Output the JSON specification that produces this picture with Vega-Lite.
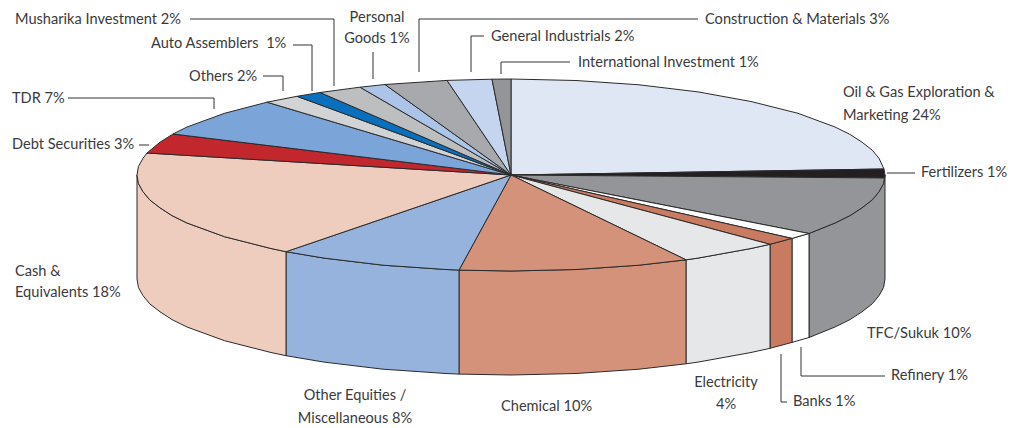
{"$schema":"https://vega.github.io/schema/vega-lite/v6.json","width":1026,"height":428,"padding":0,"autosize":{"type":"fit","contains":"padding"},"background":"white","config":{"view":{"stroke":null}},
"datasets":{"faces":[
{"p":"s1","s":"TFC/Sukuk","i":1,"x":885,"y":175},{"p":"s1","s":"TFC/Sukuk","i":2,"x":883.6,"y":183.4},{"p":"s1","s":"TFC/Sukuk","i":3,"x":879,"y":191.7},{"p":"s1","s":"TFC/Sukuk","i":4,"x":872.3,"y":199.8},{"p":"s1","s":"TFC/Sukuk","i":5,"x":862,"y":207.8},{"p":"s1","s":"TFC/Sukuk","i":6,"x":850,"y":215.6},{"p":"s1","s":"TFC/Sukuk","i":7,"x":835,"y":223},{"p":"s1","s":"TFC/Sukuk","i":8,"x":809,"y":233.5},{"p":"s1","s":"TFC/Sukuk","i":9,"x":809,"y":337.5},{"p":"s1","s":"TFC/Sukuk","i":10,"x":835,"y":327},{"p":"s1","s":"TFC/Sukuk","i":11,"x":850,"y":319.6},{"p":"s1","s":"TFC/Sukuk","i":12,"x":862,"y":311.8},{"p":"s1","s":"TFC/Sukuk","i":13,"x":872.3,"y":303.8},{"p":"s1","s":"TFC/Sukuk","i":14,"x":879,"y":295.7},{"p":"s1","s":"TFC/Sukuk","i":15,"x":883.6,"y":287.4},{"p":"s1","s":"TFC/Sukuk","i":16,"x":885,"y":279},{"p":"s1","s":"TFC/Sukuk","i":17,"x":885,"y":175},
{"p":"s2","s":"Refinery","i":1,"x":809,"y":233.5},{"p":"s2","s":"Refinery","i":2,"x":792,"y":238.4},{"p":"s2","s":"Refinery","i":3,"x":792,"y":342.4},{"p":"s2","s":"Refinery","i":4,"x":809,"y":337.5},{"p":"s2","s":"Refinery","i":5,"x":809,"y":233.5},
{"p":"s3","s":"Banks","i":1,"x":792,"y":238.4},{"p":"s3","s":"Banks","i":2,"x":770,"y":244.3},{"p":"s3","s":"Banks","i":3,"x":770,"y":348.3},{"p":"s3","s":"Banks","i":4,"x":792,"y":342.4},{"p":"s3","s":"Banks","i":5,"x":792,"y":238.4},
{"p":"s4","s":"Electricity","i":1,"x":770,"y":244.3},{"p":"s4","s":"Electricity","i":2,"x":751,"y":248.5},{"p":"s4","s":"Electricity","i":3,"x":698,"y":258.1},{"p":"s4","s":"Electricity","i":4,"x":686,"y":259.8},{"p":"s4","s":"Electricity","i":5,"x":686,"y":363.8},{"p":"s4","s":"Electricity","i":6,"x":698,"y":362.1},{"p":"s4","s":"Electricity","i":7,"x":751,"y":352.5},{"p":"s4","s":"Electricity","i":8,"x":770,"y":348.3},{"p":"s4","s":"Electricity","i":9,"x":770,"y":244.3},
{"p":"s5","s":"Chemical","i":1,"x":686,"y":259.8},{"p":"s5","s":"Chemical","i":2,"x":639,"y":265.2},{"p":"s5","s":"Chemical","i":3,"x":576,"y":269.5},{"p":"s5","s":"Chemical","i":4,"x":511,"y":271},{"p":"s5","s":"Chemical","i":5,"x":459,"y":270.1},{"p":"s5","s":"Chemical","i":6,"x":459,"y":374.1},{"p":"s5","s":"Chemical","i":7,"x":511,"y":375},{"p":"s5","s":"Chemical","i":8,"x":576,"y":373.5},{"p":"s5","s":"Chemical","i":9,"x":639,"y":369.2},{"p":"s5","s":"Chemical","i":10,"x":686,"y":363.8},{"p":"s5","s":"Chemical","i":11,"x":686,"y":259.8},
{"p":"s6","s":"Other Equities","i":1,"x":459,"y":270.1},{"p":"s6","s":"Other Equities","i":2,"x":446,"y":269.5},{"p":"s6","s":"Other Equities","i":3,"x":383,"y":265.2},{"p":"s6","s":"Other Equities","i":4,"x":324,"y":258.1},{"p":"s6","s":"Other Equities","i":5,"x":286,"y":251.7},{"p":"s6","s":"Other Equities","i":6,"x":286,"y":355.7},{"p":"s6","s":"Other Equities","i":7,"x":324,"y":362.1},{"p":"s6","s":"Other Equities","i":8,"x":383,"y":369.2},{"p":"s6","s":"Other Equities","i":9,"x":446,"y":373.5},{"p":"s6","s":"Other Equities","i":10,"x":459,"y":374.1},{"p":"s6","s":"Other Equities","i":11,"x":459,"y":270.1},
{"p":"s7","s":"Cash","i":1,"x":286,"y":251.7},{"p":"s7","s":"Cash","i":2,"x":271,"y":248.5},{"p":"s7","s":"Cash","i":3,"x":224.5,"y":236.7},{"p":"s7","s":"Cash","i":4,"x":187,"y":223},{"p":"s7","s":"Cash","i":5,"x":172,"y":215.6},{"p":"s7","s":"Cash","i":6,"x":160,"y":207.8},{"p":"s7","s":"Cash","i":7,"x":149.7,"y":199.8},{"p":"s7","s":"Cash","i":8,"x":143,"y":191.7},{"p":"s7","s":"Cash","i":9,"x":138.4,"y":183.4},{"p":"s7","s":"Cash","i":10,"x":137,"y":175},{"p":"s7","s":"Cash","i":11,"x":137,"y":279},{"p":"s7","s":"Cash","i":12,"x":138.4,"y":287.4},{"p":"s7","s":"Cash","i":13,"x":143,"y":295.7},{"p":"s7","s":"Cash","i":14,"x":149.7,"y":303.8},{"p":"s7","s":"Cash","i":15,"x":160,"y":311.8},{"p":"s7","s":"Cash","i":16,"x":172,"y":319.6},{"p":"s7","s":"Cash","i":17,"x":187,"y":327},{"p":"s7","s":"Cash","i":18,"x":224.5,"y":340.7},{"p":"s7","s":"Cash","i":19,"x":271,"y":352.5},{"p":"s7","s":"Cash","i":20,"x":286,"y":355.7},{"p":"s7","s":"Cash","i":21,"x":286,"y":251.7},
{"p":"t01","s":"Oil & Gas","i":0,"x":511,"y":175},{"p":"t01","s":"Oil & Gas","i":1,"x":511,"y":79},{"p":"t01","s":"Oil & Gas","i":2,"x":576,"y":80.5},{"p":"t01","s":"Oil & Gas","i":3,"x":639,"y":84.8},{"p":"t01","s":"Oil & Gas","i":4,"x":698,"y":91.9},{"p":"t01","s":"Oil & Gas","i":5,"x":751,"y":101.5},{"p":"t01","s":"Oil & Gas","i":6,"x":798,"y":113.3},{"p":"t01","s":"Oil & Gas","i":7,"x":835,"y":127},{"p":"t01","s":"Oil & Gas","i":8,"x":850,"y":134.4},{"p":"t01","s":"Oil & Gas","i":9,"x":862,"y":142.2},{"p":"t01","s":"Oil & Gas","i":10,"x":872.3,"y":150.2},{"p":"t01","s":"Oil & Gas","i":11,"x":879,"y":158.3},{"p":"t01","s":"Oil & Gas","i":12,"x":884,"y":169},{"p":"t01","s":"Oil & Gas","i":13,"x":511,"y":175},
{"p":"t02","s":"Fertilizers","i":0,"x":511,"y":175},{"p":"t02","s":"Fertilizers","i":1,"x":884,"y":169},{"p":"t02","s":"Fertilizers","i":2,"x":885,"y":175},{"p":"t02","s":"Fertilizers","i":3,"x":884.5,"y":178},{"p":"t02","s":"Fertilizers","i":4,"x":511,"y":175},
{"p":"t03","s":"TFC/Sukuk","i":0,"x":511,"y":175},{"p":"t03","s":"TFC/Sukuk","i":1,"x":884.5,"y":178},{"p":"t03","s":"TFC/Sukuk","i":2,"x":883.6,"y":183.4},{"p":"t03","s":"TFC/Sukuk","i":3,"x":879,"y":191.7},{"p":"t03","s":"TFC/Sukuk","i":4,"x":872.3,"y":199.8},{"p":"t03","s":"TFC/Sukuk","i":5,"x":862,"y":207.8},{"p":"t03","s":"TFC/Sukuk","i":6,"x":850,"y":215.6},{"p":"t03","s":"TFC/Sukuk","i":7,"x":835,"y":223},{"p":"t03","s":"TFC/Sukuk","i":8,"x":809,"y":233.5},{"p":"t03","s":"TFC/Sukuk","i":9,"x":511,"y":175},
{"p":"t04","s":"Refinery","i":0,"x":511,"y":175},{"p":"t04","s":"Refinery","i":1,"x":809,"y":233.5},{"p":"t04","s":"Refinery","i":2,"x":792,"y":238.4},{"p":"t04","s":"Refinery","i":3,"x":511,"y":175},
{"p":"t05","s":"Banks","i":0,"x":511,"y":175},{"p":"t05","s":"Banks","i":1,"x":792,"y":238.4},{"p":"t05","s":"Banks","i":2,"x":770,"y":244.3},{"p":"t05","s":"Banks","i":3,"x":511,"y":175},
{"p":"t06","s":"Electricity","i":0,"x":511,"y":175},{"p":"t06","s":"Electricity","i":1,"x":770,"y":244.3},{"p":"t06","s":"Electricity","i":2,"x":751,"y":248.5},{"p":"t06","s":"Electricity","i":3,"x":698,"y":258.1},{"p":"t06","s":"Electricity","i":4,"x":686,"y":259.8},{"p":"t06","s":"Electricity","i":5,"x":511,"y":175},
{"p":"t07","s":"Chemical","i":0,"x":511,"y":175},{"p":"t07","s":"Chemical","i":1,"x":686,"y":259.8},{"p":"t07","s":"Chemical","i":2,"x":639,"y":265.2},{"p":"t07","s":"Chemical","i":3,"x":576,"y":269.5},{"p":"t07","s":"Chemical","i":4,"x":511,"y":271},{"p":"t07","s":"Chemical","i":5,"x":459,"y":270.1},{"p":"t07","s":"Chemical","i":6,"x":511,"y":175},
{"p":"t08","s":"Other Equities","i":0,"x":511,"y":175},{"p":"t08","s":"Other Equities","i":1,"x":459,"y":270.1},{"p":"t08","s":"Other Equities","i":2,"x":446,"y":269.5},{"p":"t08","s":"Other Equities","i":3,"x":383,"y":265.2},{"p":"t08","s":"Other Equities","i":4,"x":324,"y":258.1},{"p":"t08","s":"Other Equities","i":5,"x":286,"y":251.7},{"p":"t08","s":"Other Equities","i":6,"x":511,"y":175},
{"p":"t09","s":"Cash","i":0,"x":511,"y":175},{"p":"t09","s":"Cash","i":1,"x":286,"y":251.7},{"p":"t09","s":"Cash","i":2,"x":271,"y":248.5},{"p":"t09","s":"Cash","i":3,"x":224.5,"y":236.7},{"p":"t09","s":"Cash","i":4,"x":187,"y":223},{"p":"t09","s":"Cash","i":5,"x":172,"y":215.6},{"p":"t09","s":"Cash","i":6,"x":160,"y":207.8},{"p":"t09","s":"Cash","i":7,"x":149.7,"y":199.8},{"p":"t09","s":"Cash","i":8,"x":143,"y":191.7},{"p":"t09","s":"Cash","i":9,"x":138.4,"y":183.4},{"p":"t09","s":"Cash","i":10,"x":137,"y":175},{"p":"t09","s":"Cash","i":11,"x":138.4,"y":166.6},{"p":"t09","s":"Cash","i":12,"x":143,"y":158.3},{"p":"t09","s":"Cash","i":13,"x":147,"y":153},{"p":"t09","s":"Cash","i":14,"x":511,"y":175},
{"p":"t10","s":"Debt Securities","i":0,"x":511,"y":175},{"p":"t10","s":"Debt Securities","i":1,"x":147,"y":153},{"p":"t10","s":"Debt Securities","i":2,"x":160,"y":142.2},{"p":"t10","s":"Debt Securities","i":3,"x":173,"y":134},{"p":"t10","s":"Debt Securities","i":4,"x":511,"y":175},
{"p":"t11","s":"TDR","i":0,"x":511,"y":175},{"p":"t11","s":"TDR","i":1,"x":173,"y":134},{"p":"t11","s":"TDR","i":2,"x":187,"y":127},{"p":"t11","s":"TDR","i":3,"x":224.5,"y":113.3},{"p":"t11","s":"TDR","i":4,"x":267,"y":102.2},{"p":"t11","s":"TDR","i":5,"x":511,"y":175},
{"p":"t12","s":"Others","i":0,"x":511,"y":175},{"p":"t12","s":"Others","i":1,"x":267,"y":102.2},{"p":"t12","s":"Others","i":2,"x":297,"y":96.3},{"p":"t12","s":"Others","i":3,"x":511,"y":175},
{"p":"t13","s":"Auto Assemblers","i":0,"x":511,"y":175},{"p":"t13","s":"Auto Assemblers","i":1,"x":297,"y":96.3},{"p":"t13","s":"Auto Assemblers","i":2,"x":320,"y":92.5},{"p":"t13","s":"Auto Assemblers","i":3,"x":511,"y":175},
{"p":"t14","s":"Musharika Investment","i":0,"x":511,"y":175},{"p":"t14","s":"Musharika Investment","i":1,"x":320,"y":92.5},{"p":"t14","s":"Musharika Investment","i":2,"x":360,"y":87.2},{"p":"t14","s":"Musharika Investment","i":3,"x":511,"y":175},
{"p":"t15","s":"Personal Goods","i":0,"x":511,"y":175},{"p":"t15","s":"Personal Goods","i":1,"x":360,"y":87.2},{"p":"t15","s":"Personal Goods","i":2,"x":385,"y":84.5},{"p":"t15","s":"Personal Goods","i":3,"x":511,"y":175},
{"p":"t16","s":"Construction","i":0,"x":511,"y":175},{"p":"t16","s":"Construction","i":1,"x":385,"y":84.5},{"p":"t16","s":"Construction","i":2,"x":447,"y":80.4},{"p":"t16","s":"Construction","i":3,"x":511,"y":175},
{"p":"t17","s":"General Industrials","i":0,"x":511,"y":175},{"p":"t17","s":"General Industrials","i":1,"x":447,"y":80.4},{"p":"t17","s":"General Industrials","i":2,"x":492,"y":79.2},{"p":"t17","s":"General Industrials","i":3,"x":511,"y":175},
{"p":"t18","s":"International Investment","i":0,"x":511,"y":175},{"p":"t18","s":"International Investment","i":1,"x":492,"y":79.2},{"p":"t18","s":"International Investment","i":2,"x":511,"y":79},{"p":"t18","s":"International Investment","i":3,"x":511,"y":175}
],
"leaders":[
{"l":"Musharika","i":1,"x":190,"y":19},{"l":"Musharika","i":2,"x":334,"y":19},{"l":"Musharika","i":3,"x":334,"y":86},
{"l":"Auto","i":1,"x":293,"y":45},{"l":"Auto","i":2,"x":312,"y":45},{"l":"Auto","i":3,"x":312,"y":91},
{"l":"Others","i":1,"x":263,"y":76},{"l":"Others","i":2,"x":283,"y":76},{"l":"Others","i":3,"x":283,"y":91},
{"l":"TDR","i":1,"x":68,"y":98},{"l":"TDR","i":2,"x":214,"y":98},{"l":"TDR","i":3,"x":214,"y":109},
{"l":"Debt","i":1,"x":139,"y":145},{"l":"Debt","i":2,"x":149,"y":145},
{"l":"Personal","i":1,"x":373,"y":52},{"l":"Personal","i":2,"x":373,"y":79},
{"l":"Construction","i":1,"x":419,"y":72},{"l":"Construction","i":2,"x":419,"y":19},{"l":"Construction","i":3,"x":698,"y":19},
{"l":"General","i":1,"x":471,"y":72},{"l":"General","i":2,"x":471,"y":36},{"l":"General","i":3,"x":484,"y":36},
{"l":"Intl","i":1,"x":501,"y":74},{"l":"Intl","i":2,"x":501,"y":62},{"l":"Intl","i":3,"x":570,"y":62},
{"l":"Fertilizers","i":1,"x":887,"y":173},{"l":"Fertilizers","i":2,"x":915,"y":173},
{"l":"Refinery","i":1,"x":801,"y":347},{"l":"Refinery","i":2,"x":801,"y":376},{"l":"Refinery","i":3,"x":885,"y":376},
{"l":"Banks","i":1,"x":781,"y":354},{"l":"Banks","i":2,"x":781,"y":402},{"l":"Banks","i":3,"x":787,"y":402}
],
"left":[
{"t":"Musharika Investment 2%","x":15,"y":19},{"t":"Construction & Materials 3%","x":705,"y":19},{"t":"General Industrials 2%","x":491,"y":36},{"t":"Auto Assemblers \u00a01%","x":151,"y":43},{"t":"International Investment 1%","x":578,"y":62},{"t":"Others 2%","x":189,"y":76},{"t":"Oil & Gas Exploration &","x":843,"y":92},{"t":"Marketing 24%","x":843,"y":115},{"t":"TDR 7%","x":12,"y":98},{"t":"Debt Securities 3%","x":12,"y":144},{"t":"Fertilizers 1%","x":921,"y":172},{"t":"Cash &","x":15,"y":271},{"t":"Equivalents 18%","x":15,"y":292},{"t":"TFC/Sukuk 10%","x":867,"y":333},{"t":"Refinery 1%","x":891,"y":375},{"t":"Banks 1%","x":793,"y":401},{"t":"Chemical 10%","x":501,"y":406}
],
"center":[
{"t":"Personal","x":377,"y":17},{"t":"Goods 1%","x":377,"y":38},{"t":"Electricity","x":726,"y":382},{"t":"4%","x":726,"y":404},{"t":"Other Equities /","x":355,"y":395},{"t":"Miscellaneous 8%","x":355,"y":418}
]},
"encoding":{
"x":{"field":"x","type":"quantitative","scale":{"domain":[0,1026],"range":[0,1026],"nice":false,"zero":false},"axis":null},
"y":{"field":"y","type":"quantitative","scale":{"domain":[0,428],"range":[0,428],"nice":false,"zero":false},"axis":null}},
"layer":[
{"data":{"name":"faces"},"mark":{"type":"line","stroke":"#2B2B2B","strokeWidth":1,"strokeJoin":"round"},
"encoding":{"detail":{"field":"p"},"order":{"field":"i","type":"quantitative"},
"fill":{"field":"s","type":"nominal","legend":null,"scale":{"domain":["Oil & Gas","Fertilizers","TFC/Sukuk","Refinery","Banks","Electricity","Chemical","Other Equities","Cash","Debt Securities","TDR","Others","Auto Assemblers","Musharika Investment","Personal Goods","Construction","General Industrials","International Investment"],"range":["#DFE6F4","#231F20","#939598","#FFFFFF","#C97B62","#E6E7E8","#D4927A","#95B3DD","#EECDBF","#C1272D","#7BA5D8","#D1D3D4","#0A6FBD","#BCBEC0","#ABC4E8","#A7A9AC","#C5D4EF","#939598"]}}}},
{"data":{"name":"leaders"},"mark":{"type":"line","stroke":"#333333","strokeWidth":1},"encoding":{"detail":{"field":"l"},"order":{"field":"i","type":"quantitative"}}},
{"data":{"name":"left"},"mark":{"type":"text","align":"left","baseline":"middle","font":"Lato","fontSize":14.6,"dy":1,"fill":"#3A3A3C"},"encoding":{"text":{"field":"t"}}},
{"data":{"name":"center"},"mark":{"type":"text","align":"center","baseline":"middle","font":"Lato","fontSize":14.6,"dy":1,"fill":"#3A3A3C"},"encoding":{"text":{"field":"t"}}}
]}
